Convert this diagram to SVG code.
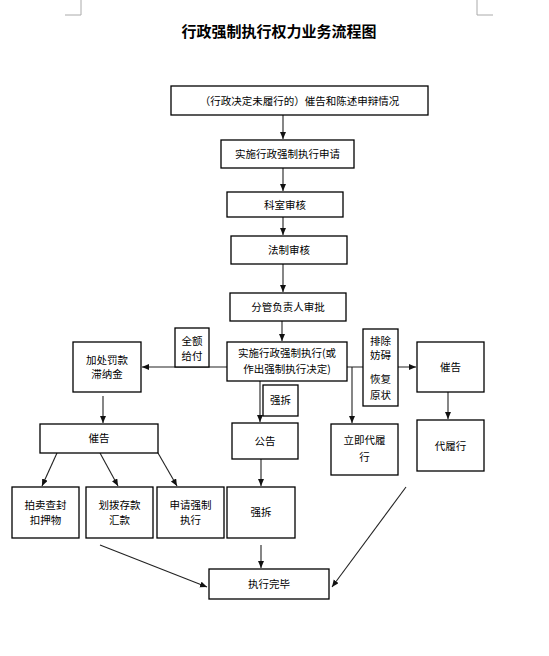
<svg xmlns="http://www.w3.org/2000/svg" width="549" height="656" viewBox="0 0 549 656">
<defs>
<style>
.b{fill:#fff;stroke:#000;stroke-width:1.3}
.t{font-family:"Noto Sans CJK SC","Noto Sans",sans-serif;font-size:10.5px;fill:#000;text-anchor:middle}
.ttl{font-family:"Noto Sans CJK SC","Noto Sans",sans-serif;font-size:15px;font-weight:bold;fill:#000;text-anchor:middle}
.c{stroke:#222;stroke-width:1.1;fill:none}
.ca{stroke:#222;stroke-width:1.1;fill:none;marker-end:url(#ah)}
.cm{stroke:#aaa;stroke-width:1;fill:none}
</style>
<marker id="ah" markerUnits="userSpaceOnUse" markerWidth="8" markerHeight="7" refX="7" refY="3" orient="auto">
<path d="M0,0 L7,3 L0,6 z" fill="#111"/>
</marker>
</defs>
<rect width="549" height="656" fill="#fff"/>
<path class="cm" d="M81,0 V15 H65 M477,0 V15 H493"/>
<text class="ttl" x="279" y="37">行政强制执行权力业务流程图</text>

<g id="connectors">
<line class="ca" x1="283" y1="115" x2="283" y2="139"/>
<line class="ca" x1="283" y1="168" x2="283" y2="191"/>
<line class="ca" x1="283" y1="217" x2="283" y2="235"/>
<line class="ca" x1="283" y1="264" x2="283" y2="292"/>
<line class="ca" x1="282" y1="321" x2="282" y2="341"/>
<line class="ca" x1="227" y1="367" x2="142" y2="367"/>
<line class="ca" x1="347" y1="367" x2="416" y2="367"/>
<line class="ca" x1="352" y1="367" x2="352" y2="423"/>
<line class="ca" x1="260" y1="381" x2="260" y2="422"/>
<line class="ca" x1="448" y1="392" x2="448" y2="419"/>
<line class="ca" x1="103" y1="396" x2="103" y2="423"/>
<line class="ca" x1="57" y1="453" x2="42" y2="486"/>
<line class="ca" x1="100" y1="453" x2="118" y2="486"/>
<line class="ca" x1="158" y1="453" x2="177" y2="486"/>
<line class="ca" x1="261" y1="459" x2="261" y2="486"/>
<line class="ca" x1="261" y1="545" x2="261" y2="568"/>
<line class="ca" x1="100" y1="545" x2="207" y2="587"/>
<line class="ca" x1="406" y1="487" x2="332" y2="587"/>
</g>

<g id="n1"><rect class="b" x="171" y="86" width="257" height="29"/><text class="t" x="299.5" y="104.5">（行政决定未履行的）催告和陈述申辩情况</text></g>
<g id="n2"><rect class="b" x="221" y="140" width="133" height="28"/><text class="t" x="287.5" y="158">实施行政强制执行申请</text></g>
<g id="n3"><rect class="b" x="227" y="192" width="116" height="25"/><text class="t" x="285" y="208.5">科室审核</text></g>
<g id="n4"><rect class="b" x="231" y="236" width="116" height="28"/><text class="t" x="289" y="254">法制审核</text></g>
<g id="n5"><rect class="b" x="230" y="293" width="116" height="28"/><text class="t" x="288" y="311">分管负责人审批</text></g>
<g id="n6"><rect class="b" x="227" y="342" width="120" height="39"/><text class="t" x="287" y="357">实施行政强制执行(或</text><text class="t" x="287" y="373">作出强制执行决定)</text></g>
<g id="n7"><rect class="b" x="263" y="385" width="35" height="31"/><text class="t" x="280.5" y="404">强拆</text></g>
<g id="n8"><rect class="b" x="232" y="423" width="66" height="36"/><text class="t" x="265" y="445">公告</text></g>
<g id="n9"><rect class="b" x="363" y="329" width="35" height="77"/><text class="t" x="380.5" y="345">排除</text><text class="t" x="380.5" y="359">妨碍</text><text class="t" x="380.5" y="383">恢复</text><text class="t" x="380.5" y="399">原状</text></g>
<g id="n10"><rect class="b" x="417" y="342" width="67" height="50"/><text class="t" x="450.5" y="371">催告</text></g>
<g id="n11"><rect class="b" x="331" y="424" width="67" height="51"/><text class="t" x="364.5" y="444">立即代履</text><text class="t" x="364.5" y="461">行</text></g>
<g id="n12"><rect class="b" x="417" y="420" width="67" height="51"/><text class="t" x="450.5" y="449.5">代履行</text></g>
<g id="n13"><rect class="b" x="73" y="342" width="68" height="50"/><text class="t" x="107" y="364">加处罚款</text><text class="t" x="107" y="378">滞纳金</text></g>
<g id="n14"><rect class="b" x="175" y="328" width="34" height="39"/><text class="t" x="192" y="345">全额</text><text class="t" x="192" y="360">给付</text></g>
<g id="n15"><rect class="b" x="40" y="424" width="118" height="29"/><text class="t" x="99" y="442">催告</text></g>
<g id="n16"><rect class="b" x="12" y="487" width="67" height="51"/><text class="t" x="45.5" y="509">拍卖查封</text><text class="t" x="45.5" y="524">扣押物</text></g>
<g id="n17"><rect class="b" x="86" y="487" width="67" height="51"/><text class="t" x="119.5" y="509">划拨存款</text><text class="t" x="119.5" y="524">汇款</text></g>
<g id="n18"><rect class="b" x="157" y="487" width="67" height="51"/><text class="t" x="190.5" y="509">申请强制</text><text class="t" x="190.5" y="524">执行</text></g>
<g id="n19"><rect class="b" x="227" y="487" width="68" height="51"/><text class="t" x="261" y="516">强拆</text></g>
<g id="n20"><rect class="b" x="209" y="569" width="120" height="30"/><text class="t" x="269" y="588">执行完毕</text></g>
</svg>
